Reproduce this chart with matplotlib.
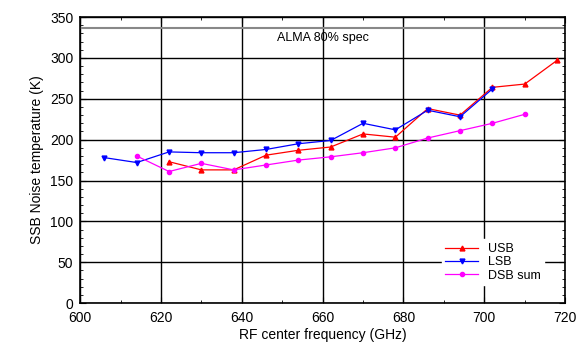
import numpy as np
import matplotlib.pyplot as plt
from matplotlib.ticker import MultipleLocator

plt.rcParams['font.family'] = ['Liberation Sans', 'DejaVu Sans']

freqUsb = [622, 630, 638, 646, 654, 662, 670, 678, 686, 694, 702, 710, 718]
tUsb = [173, 163, 163, 181, 187, 191, 207, 203, 238, 230, 264, 268, 297]
freqLsb = [606, 614, 622, 630, 638, 646, 654, 662, 670, 678, 686, 694, 702]
tLsb = [178, 172, 185, 184, 184, 188, 195, 199, 220, 212, 236, 228, 262]
freqDsb = [614, 622, 630, 638, 646, 654, 662, 670, 678, 686, 694, 702, 710]
tDsb = [180, 161, 171, 163, 169, 175, 179, 184, 190, 202, 211, 220, 231]
almaSpec = 336

fig = plt.figure(figsize=(5.85, 3.48), dpi=100)
axs = fig.add_axes([0.137, 0.129, 0.829, 0.822])

axs.axhline(almaSpec, color='#888888', linewidth=1.5, zorder=1)
axs.text(660, 324, 'ALMA 80% spec', fontsize=9, ha='center', va='center')

axs.plot(freqUsb, tUsb, color='red', marker='^', markersize=3.5, linewidth=0.9, label='USB', zorder=3)
axs.plot(freqLsb, tLsb, color='blue', marker='v', markersize=3.5, linewidth=0.9, label='LSB', zorder=3)
axs.plot(freqDsb, tDsb, color='magenta', marker='o', markersize=3, linewidth=0.9, label='DSB sum', zorder=3)

axs.set_xlim(600, 720)
axs.set_ylim(0, 350)
axs.xaxis.set_major_locator(MultipleLocator(20))
axs.xaxis.set_minor_locator(MultipleLocator(10))
axs.yaxis.set_major_locator(MultipleLocator(50))
axs.yaxis.set_minor_locator(MultipleLocator(10))
axs.tick_params(which='both', direction='in', top=True, right=True, labelsize=10)
axs.tick_params(axis='x', pad=6)
axs.tick_params(axis='y', pad=5)
axs.tick_params(which='major', length=4)
axs.tick_params(which='minor', length=2)
axs.grid(which='major', color='black', linewidth=1)
axs.set_axisbelow(True)
for s in axs.spines.values():
    s.set_linewidth(1.2)

axs.set_xlabel('RF center frequency (GHz)', fontsize=10, labelpad=2)
axs.set_ylabel('SSB Noise temperature (K)', fontsize=10)

leg = axs.legend(loc='lower right', bbox_to_anchor=(0.97, 0.04), fontsize=9, frameon=True,
                 fancybox=False, edgecolor='white', framealpha=1, handlelength=2.6,
                 labelspacing=0.1, borderpad=0.3)
leg.set_zorder(5)

fig.savefig('out.png', dpi=100)
